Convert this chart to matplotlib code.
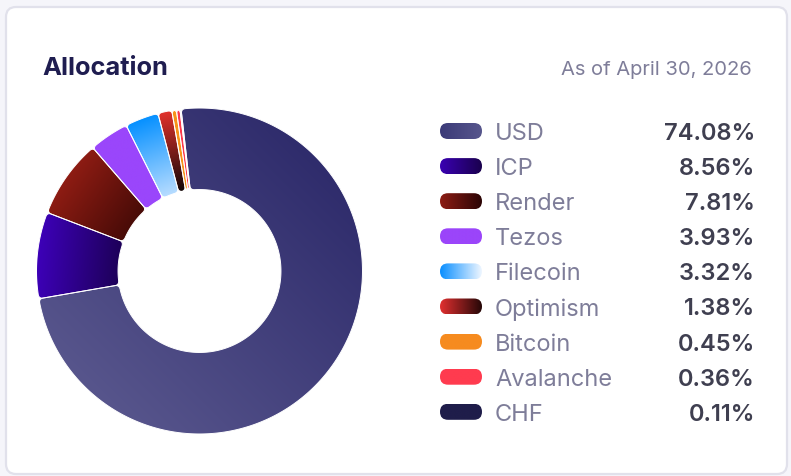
import matplotlib.pyplot as plt
import numpy as np
from matplotlib.patches import FancyBboxPatch, PathPatch
from matplotlib.path import Path
from matplotlib.colors import to_rgb

plt.rcParams['font.family'] = ['Inter', 'DejaVu Sans']

# chart data
labels = ['USD', 'ICP', 'Render', 'Tezos', 'Filecoin', 'Optimism', 'Bitcoin', 'Avalanche', 'CHF']
shares = [74.08, 8.56, 7.81, 3.93, 3.32, 1.38, 0.45, 0.36, 0.11]
title = 'Allocation'
as_of = 'As of April 30, 2026'

# slice gradients (outer/start colour, inner/end colour)
slice_cols = [('#57558c', '#2f2c6c'), ('#3d00b8', '#1d0058'), ('#8e1c13', '#470b07'),
              ('#9a46fb', '#9a46fb'), ('#0590ff', '#b8ddff'), ('#e3322c', '#140707'),
              ('#f7931a', '#f7931a'), ('#fd3a4c', '#fd3a4c'), ('#1f1d4c', '#1f1d4c')]
# legend pill gradients (left, right)
pill_cols = [('#3b3a78', '#57568c'), ('#3a00b2', '#1a004e'), ('#8c1c14', '#2c0505'),
             ('#9b45fa', '#9b45fa'), ('#0a8fff', '#eef6ff'), ('#e03030', '#260707'),
             ('#f68b1f', '#f68b1f'), ('#ff3b4f', '#ff3b4f'), ('#1f1d4a', '#1f1d4a')]


def grad_image(x0, x1, y0, y1, c0, c1, d, tmin, tmax, n=160):
    X, Y = np.meshgrid(np.linspace(x0, x1, n), np.linspace(y0, y1, n))
    t = np.clip((X * d[0] + Y * d[1] - tmin) / (tmax - tmin + 1e-9), 0, 1)[..., None]
    return (1 - t) * np.array(to_rgb(c0)) + t * np.array(to_rgb(c1))


def rounded_ring(t1, t2, r_in, r_out, rad=0.028, step=0.002):
    a = np.radians(np.linspace(t1, t2, max(int((t2 - t1) * 4), 2)))
    outer = np.c_[r_out * np.cos(a), r_out * np.sin(a)]
    inner = np.c_[r_in * np.cos(a[::-1]), r_in * np.sin(a[::-1])]
    pts = np.vstack([outer, inner, outer[:1]])
    s = np.r_[0, np.cumsum(np.hypot(*np.diff(pts, axis=0).T))]
    u = np.arange(0, s[-1], step)
    res = np.c_[np.interp(u, s, pts[:, 0]), np.interp(u, s, pts[:, 1])]
    k = max(int(2 * rad / step), 1)
    kern = np.ones(k) / k
    pad = np.vstack([res[-k:], res, res[:k]])
    sm = np.c_[np.convolve(pad[:, 0], kern, 'same'), np.convolve(pad[:, 1], kern, 'same')][k:-k]
    return Path(np.vstack([sm, sm[:1]]), closed=True)


W, H = 791, 477
fig = plt.figure(figsize=(W / 100, H / 100), dpi=100)
fig.patch.set_facecolor('#f5f5fa')

# background axes in pixel coordinates
bg = fig.add_axes([0, 0, 1, 1])
bg.set_xlim(0, W)
bg.set_ylim(H, 0)
bg.axis('off')
bg.add_patch(FancyBboxPatch((6, 8), 781, 467, boxstyle='round,pad=0,rounding_size=10',
                            fc='white', ec='#e1e1eb', lw=1.6, zorder=1))

bg.text(42, 68.5, title, fontsize=18.3, fontweight='bold', color='#1f1d50', va='center', ha='left')
bg.text(752, 70, as_of, fontsize=14.5, color='#7e7d99', va='center', ha='right')

# legend
row0, dy = 132, 35.1
for i, (lab, val) in enumerate(zip(labels, shares)):
    y = row0 + i * dy
    pill = FancyBboxPatch((440, y - 8), 42, 16, boxstyle='round,pad=0,rounding_size=8',
                          fc='none', ec='none', zorder=2)
    bg.add_patch(pill)
    c0, c1 = pill_cols[i]
    img = grad_image(440, 482, y - 8, y + 8, c0, c1, (1, 0), 440, 482, n=60)
    im = bg.imshow(img, extent=(440, 482, y + 8, y - 8), origin='upper',
                   interpolation='bilinear', aspect='auto', zorder=3)
    im.set_clip_path(pill)
    bg.text(495, y + 2, lab, fontsize=17, color='#7e7d99', va='center', ha='left')
    bg.text(755, y + 2, f'{val:.2f}%', fontsize=17, fontweight='semibold', color='#3f3f50',
            va='center', ha='right')
bg.set_xlim(0, W)
bg.set_ylim(H, 0)

# donut
cx, cy, R = 199.5, 272, 163
half = 170
ax = fig.add_axes([(cx - half) / W, (H - cy - half) / H, 2 * half / W, 2 * half / H])
wedges, _ = ax.pie(shares, startangle=96.5, counterclock=False, radius=1,
                   wedgeprops=dict(width=0.5))
for i, w in enumerate(wedges):
    w.set_visible(False)
    path = rounded_ring(w.theta1, w.theta2, w.r - w.width, w.r)
    v = path.vertices
    c0, c1 = slice_cols[i]
    if i == 0:
        d = np.array([1.0, 1.0]) / np.sqrt(2)
    else:
        m = np.radians((w.theta1 + w.theta2) / 2)
        d = np.array([-np.cos(m), -np.sin(m)])
    proj = v @ d
    x0, y0 = v.min(0)
    x1, y1 = v.max(0)
    img = grad_image(x0, x1, y0, y1, c0, c1, d, proj.min(), proj.max())
    patch = PathPatch(path, fc='none', ec='white', lw=0.7, zorder=3)
    ax.add_patch(patch)
    im = ax.imshow(img, extent=(x0, x1, y0, y1), origin='lower',
                   interpolation='bilinear', zorder=2)
    im.set_clip_path(patch)

lim = half / R
ax.set_xlim(-lim, lim)
ax.set_ylim(-lim, lim)
ax.set_aspect('auto')
ax.axis('off')

fig.savefig('out.png', dpi=100, facecolor=fig.get_facecolor())
